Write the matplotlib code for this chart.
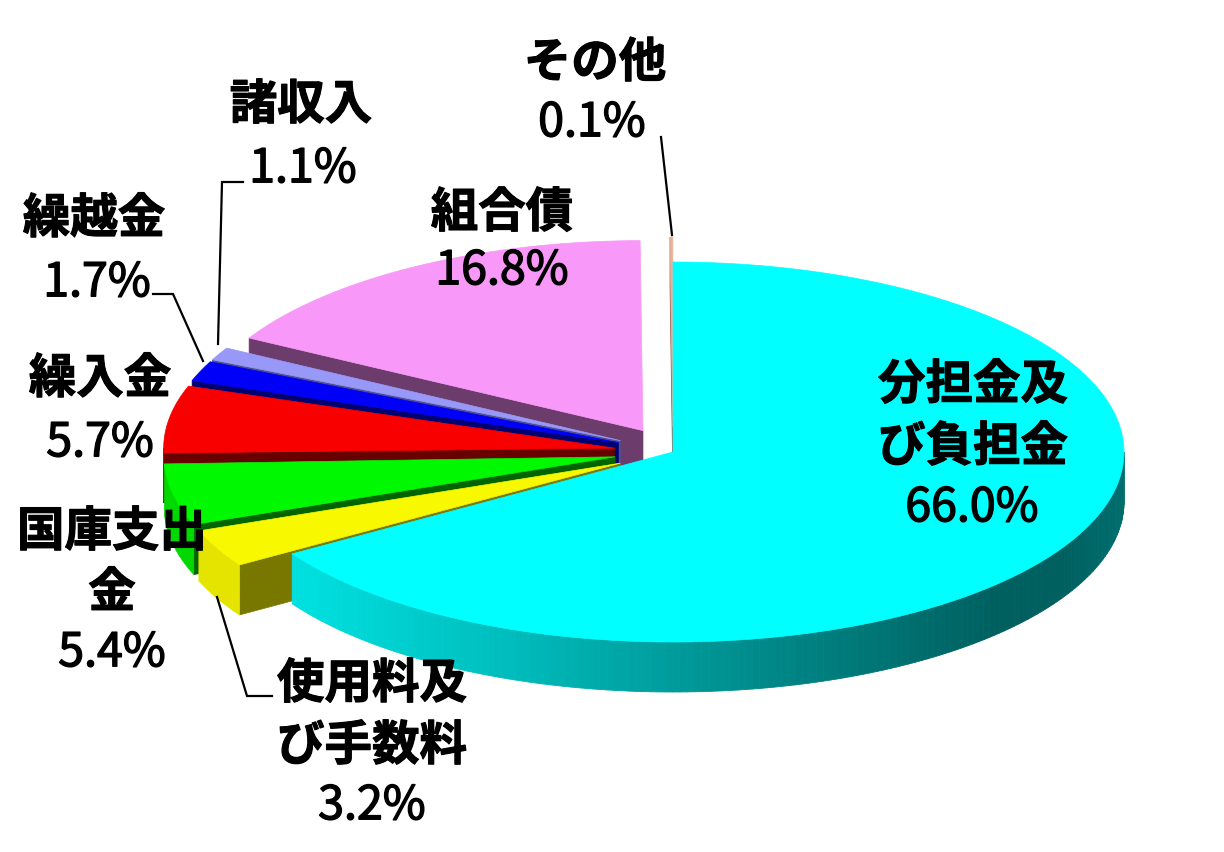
"""Exploded 3D style pie of revenue shares."""

import matplotlib

matplotlib.use("Agg")
import matplotlib.patheffects as pe
import matplotlib.pyplot as plt
import numpy as np
from matplotlib.patches import Polygon

plt.rcParams["font.family"] = ["Noto Sans CJK JP", "DejaVu Sans"]

# clockwise from 12 o'clock
names = ["分担金及\nび負担金", "使用料及\nび手数料", "国庫支出\n金", "繰入金", "繰越金", "諸収入", "組合債", "その他"]
shares = [66.0, 3.2, 5.4, 5.7, 1.7, 1.1, 16.8, 0.1]

top_colors = ["#00ffff", "#f8f800", "#00f800", "#f80000", "#0000f8", "#9898f8", "#f898f8", "#e8b098"]
wall_colors = ["#00a0a0", "#787800", "#006400", "#680000", "#000070", "#50508c", "#6c3c6c", "#a06050"]
rim_colors = ["#00e0e0", "#e4e400", "#00d800", "#d00000", "#0000c0", "#7878c8", "#c078c0", "#c08060"]

# pixel geometry of the pie
CX, CY = 673, 453
RX, RY = 451, 190
DEPTH = 50
EXPLODE = 59
# the original's perspective pulls the green slice's upper edge down a little (degrees)
edge_trim = {2: 0.7}


def arc(cx, cy, a0, a1, n=80):
    t = np.radians(np.linspace(a0, a1, n))
    return np.column_stack([cx + RX * np.sin(t), cy - RY * np.cos(t)])


def cyan_shade(x):
    stops_x = [292, 500, 800, 1000, 1060, 1124]
    stops_g = [225, 190, 130, 95, 95, 110]
    g = np.interp(x, stops_x, stops_g) / 255
    return (0, g, g)


fig = plt.figure(figsize=(12.24, 8.53), dpi=100)
ax = fig.add_axes([0, 0, 1, 1])
ax.set_xlim(0, 1224)
ax.set_ylim(853, 0)
ax.axis("off")

edges = np.concatenate([[0], np.cumsum(shares)]) / sum(shares) * 360
exploded = [i for i in range(len(shares)) if i != 0]

# back to front: その他, 組合債, 諸収入 ... 使用料, then the big slice
for i in [7, 6, 5, 4, 3, 2, 1, 0]:
    a0, a1 = edges[i], edges[i + 1]
    mid = np.radians((a0 + a1) / 2)
    a1 = a1 - edge_trim.get(i, 0)
    if i in exploded:
        cx = CX + EXPLODE * np.sin(mid)
        cy = CY - EXPLODE * RY / RX * np.cos(mid)
    else:
        cx, cy = CX, CY

    # radial wall on the clockwise-first edge (faces the viewer on the left half)
    if i != 0:
        p = arc(cx, cy, a0, a0, 1)[0]
        wall = [(cx, cy), tuple(p), (p[0], p[1] + DEPTH), (cx, cy + DEPTH)]
        ax.add_patch(Polygon(wall, closed=True, fc=wall_colors[i], ec=wall_colors[i], lw=0.5))

    # outer rim, only the front half of the ellipse shows
    lo, hi = max(a0, 90), min(a1, 270)
    if lo < hi:
        pts = arc(cx, cy, lo, hi, 160 if i == 0 else 40)
        if i == 0:
            for k in range(len(pts) - 1):
                q = pts[k : k + 2]
                strip = [q[0], q[1], q[1] + [0, DEPTH], q[0] + [0, DEPTH]]
                col = cyan_shade(q[:, 0].mean())
                ax.add_patch(Polygon(strip, closed=True, fc=col, ec=col, lw=0.6))
        else:
            rim = np.vstack([pts, pts[::-1] + [0, DEPTH]])
            ax.add_patch(Polygon(rim, closed=True, fc=rim_colors[i], ec=rim_colors[i], lw=0.5))

    top = np.vstack([[cx, cy], arc(cx, cy, a0, a1, 120)])
    ax.add_patch(Polygon(top, closed=True, fc=top_colors[i], ec=top_colors[i], lw=0.5))

# leader lines
leaders = [
    [(661, 138), (672, 236)],
    [(243, 183), (222, 183), (218, 345)],
    [(153, 295), (173, 295), (203, 362)],
    [(272, 697), (247, 697), (217, 598)],
]
for line in leaders:
    xs, ys = zip(*line)
    ax.plot(xs, ys, color="black", lw=1.6, solid_joinstyle="miter", zorder=5)

# label centres: name lines first, then the percentage
label_layout = {
    0: (973, [386, 448], 972, 509),
    1: (372, [685, 747], 372, 807),
    2: (112, [533, 594], 112, 654),
    3: (100, [380], 100, 444),
    4: (94, [220], 97, 284),
    5: (301, [106], 303, 170),
    6: (502, [214], 502, 272),
    7: (595, [64], 592, 124),
}
for i, (nx, name_ys, px, py) in label_layout.items():
    for line, y in zip(names[i].split("\n"), name_ys):
        ax.text(
            nx, y, line, fontsize=34.2, fontweight="bold", ha="center", va="center", color="black", zorder=6,
            path_effects=[pe.withStroke(linewidth=0.8, foreground="black")],
        )
    ax.text(
        px, py, f"{shares[i]:.1f}%", fontsize=33.5, ha="center", va="center", color="black", zorder=6,
        path_effects=[pe.withStroke(linewidth=1.0, foreground="black")],
    )

fig.savefig("out.png", dpi=100)
plt.close(fig)
